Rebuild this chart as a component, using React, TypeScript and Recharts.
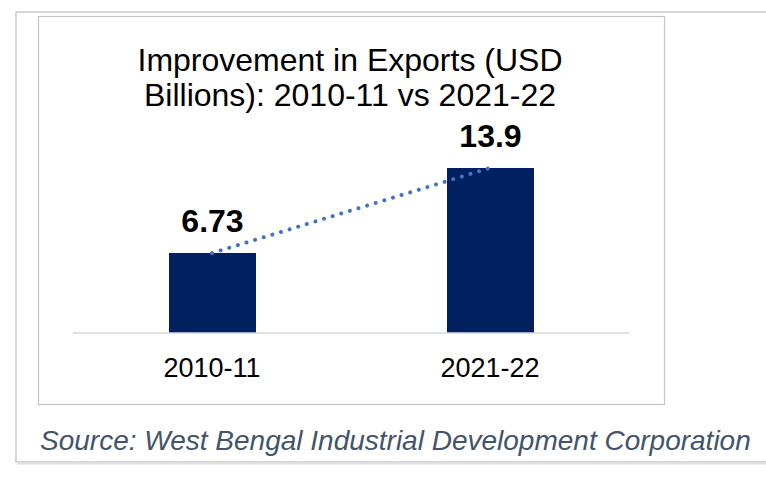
import React from "react";
import { ComposedChart, Bar, Line, XAxis, YAxis, LabelList } from "recharts";

const categories = ["2010-11", "2021-22"];
const exportsUsdBn = [6.73, 13.9];
const titleLines = ["Improvement in Exports (USD", "Billions): 2010-11 vs 2021-22"];
const sourceText = "Source: West Bengal Industrial Development Corporation";

const data = categories.map((c, i) => ({ name: c, value: exportsUsdBn[i] }));

const FONT = "'Liberation Sans', Arial, Helvetica, sans-serif";

export default function App() {
  return (
    <div style={{ position: "absolute", left: 0, top: 0, width: 766, height: 477, background: "#fff", overflow: "hidden" }}>
      <svg width={766} height={477} style={{ position: "absolute", left: 0, top: 0 }}>
        <rect x={16} y={12} width={800} height={450} fill="#fff" stroke="#c9c9c9" strokeWidth={1.5} />
        <line x1={17} y1={463.5} x2={766} y2={463.5} stroke="#e0e0e0" strokeWidth={2} />
        <rect x={38.5} y={16.5} width={626} height={388} fill="#fff" stroke="#c4c4c4" strokeWidth={1.2} />
        <text x={350} y={71} textAnchor="middle" fontFamily={FONT} fontSize={32} fill="#000">{titleLines[0]}</text>
        <text x={350} y={106} textAnchor="middle" fontFamily={FONT} fontSize={32} fill="#000">{titleLines[1]}</text>
        <text x={40} y={450} fontFamily={FONT} fontSize={28} fontStyle="italic" fill="#44546A">{sourceText}</text>
      </svg>
      <div style={{ position: "absolute", left: 0, top: 0 }}>
        <ComposedChart width={766} height={477} data={data} margin={{ top: 143, right: 137, bottom: 84, left: 73 }} barSize={87}>
          <XAxis
            dataKey="name"
            height={60}
            tickLine={false}
            tickSize={0}
            tickMargin={25}
            axisLine={{ stroke: "#d9d9d9", strokeWidth: 1.5 }}
            tick={{ fontSize: 27, fill: "#000", fontFamily: FONT }}
          />
          <YAxis hide domain={[0, 16]} />
          <Bar dataKey="value" fill="#002060" isAnimationActive={false}>
            <LabelList dataKey="value" position="top" offset={21} style={{ fontSize: 32, fontWeight: 700, fill: "#000", fontFamily: FONT }} />
          </Bar>
          <Line
            type="linear"
            dataKey="value"
            stroke="#4472C4"
            strokeWidth={4}
            strokeDasharray="0.01 9"
            strokeLinecap="round"
            dot={false}
            activeDot={false}
            isAnimationActive={false}
          />
        </ComposedChart>
      </div>
    </div>
  );
}
